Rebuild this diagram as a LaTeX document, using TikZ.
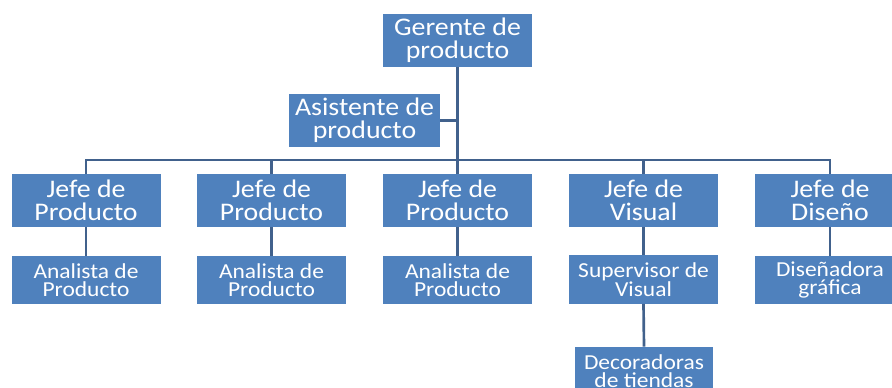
\documentclass[tikz,border=0pt]{standalone}
\usepackage{fontspec}
\setmainfont{Carlito}[FakeStretch=1.1]
\definecolor{boxblue}{HTML}{4F81BD}
\definecolor{linecol}{HTML}{41618C}
\begin{document}
\begin{tikzpicture}[x=0.75pt,y=-0.75pt,
  box/.style={fill=boxblue, text=white, inner sep=0pt, align=center, anchor=center},
  bigbox/.style={box, minimum width=111.75pt, minimum height=39.75pt,
    font=\fontsize{19}{17}\selectfont},
  smallbox/.style={box, minimum width=111.75pt, minimum height=36pt,
    font=\fontsize{16}{13.5}\selectfont},
  conn/.style={draw=linecol, line width=2pt}]
\fill[white] (0,0) rectangle (892,388);
\clip (0,0) rectangle (892,388);
% top
\node[bigbox] (g) at (457.5,40.5) {Gerente de\\producto};
\node[bigbox, minimum width=113.25pt] (a) at (364.5,120.5) {Asistente de\\producto};
% level 1
\node[bigbox] (j1) at (86,200.5) {Jefe de\\Producto};
\node[bigbox] (j2) at (271.5,200.5) {Jefe de\\Producto};
\node[bigbox] (j3) at (457.5,200.5) {Jefe de\\Producto};
\node[bigbox] (j4) at (643.5,200.5) {Jefe de\\Visual};
\node[bigbox, minimum width=112.5pt] (j5) at (830,200.5) {Jefe de\\Diseño};
% level 2
\node[smallbox] (k1) at (86,280) {Analista de\\Producto};
\node[smallbox] (k2) at (271.5,280) {Analista de\\Producto};
\node[smallbox] (k3) at (457.5,280) {Analista de\\Producto};
\node[smallbox] (k4) at (643.5,279.5) {Supervisor de\\Visual};
\node[smallbox, minimum width=112.5pt] (k5) at (830,280) {Diseñadora\\gráfica};
% level 3
\node[smallbox, minimum width=103.5pt] (d) at (644,371) {Decoradoras\\de tiendas};
% connectors
\coordinate (bus) at (0,160);
\draw[conn] (g.south) -- (j3.north);
\draw[conn] (a.east) -- (a.east -| g.south);
\draw[conn] (j1.north) -- (j1.north |- bus) -- (j5.north |- bus) -- (j5.north);
\draw[conn] (j2.north) -- (j2.north |- bus);
\draw[conn] (j4.north) -- (j4.north |- bus);
\draw[conn] (j1.south) -- (k1.north);
\draw[conn] (j2.south) -- (k2.north);
\draw[conn] (j3.south) -- (k3.north);
\draw[conn] (j4.south) -- (k4.north);
\draw[conn] (j5.south) -- (k5.north);
\draw[conn] (k4.south) -- (d.north);
\end{tikzpicture}
\end{document}
